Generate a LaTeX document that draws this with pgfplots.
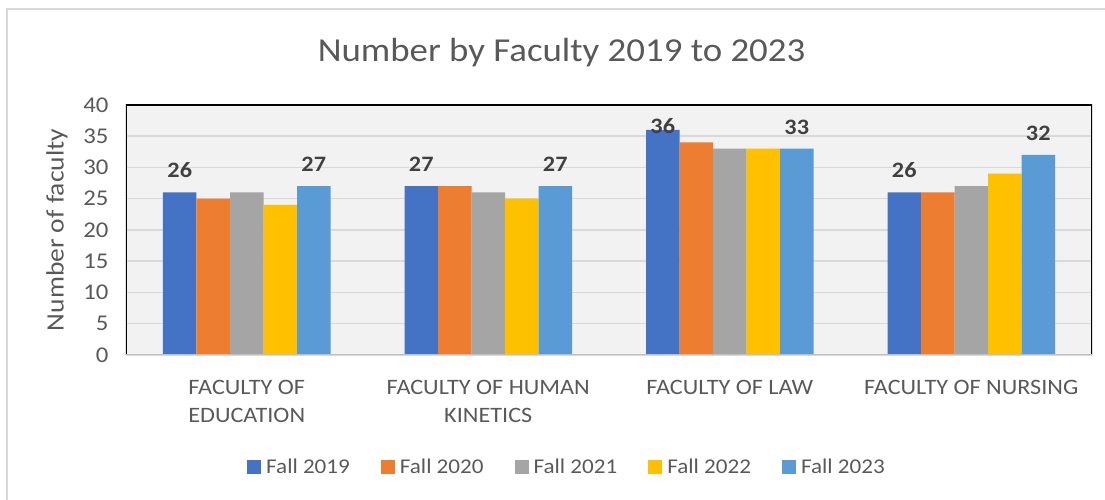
\documentclass[border=0pt]{standalone}
\usepackage{fontspec}
\setmainfont{Carlito}[FakeStretch=1.1]
\usepackage{pgfplots}
\pgfplotsset{compat=1.18}
\definecolor{cA}{HTML}{4472C4}
\definecolor{cB}{HTML}{ED7D31}
\definecolor{cC}{HTML}{A5A5A5}
\definecolor{cD}{HTML}{FFC000}
\definecolor{cE}{HTML}{5B9BD5}
\definecolor{txt}{HTML}{595959}
\definecolor{lbl}{HTML}{404040}
\definecolor{grid}{HTML}{D9D9D9}
\definecolor{frame}{HTML}{D9D9D9}
\definecolor{bg}{HTML}{F2F2F2}
\definecolor{xaxis}{HTML}{BFBFBF}
\begin{document}
\begin{tikzpicture}[x=1pt,y=1pt]
\path[use as bounding box] (-126,-145) rectangle (979,355);
\draw[color=frame, line width=2pt] (-119,-150) -- (-119,346) -- (985,346);
\begin{axis}[
  at={(0pt,0pt)}, anchor=south west,
  scale only axis, width=966pt, height=250pt,
  ybar=0pt, bar width=33.5pt,
  xmin=-0.5, xmax=3.5, ymin=0, ymax=40,
  xtick={0,1,2,3},
  xticklabels={{FACULTY OF\\EDUCATION},{FACULTY OF HUMAN\\KINETICS},{FACULTY OF LAW},{FACULTY OF NURSING}},
  ytick={0,5,...,40},
  major tick length=0pt,
  tick style={draw=none},
  axis line style={draw=none},
  axis background/.style={fill=bg},
  ymajorgrids, grid style={color=grid, line width=1.5pt},
  /pgf/number format/assume math mode=true,
  yticklabel style={font=\fontsize{22.5}{26}\selectfont, text=txt, xshift=-14pt},
  xticklabel style={font=\fontsize{22}{28}\selectfont, text=txt, align=center, yshift=-22pt},
  every axis y label/.style={at={(axis description cs:-0.0714,0.5)}, rotate=90, anchor=center},
  ylabel={Number of faculty},
  ylabel style={font=\fontsize{25}{28}\selectfont, text=txt},
  visualization depends on={y \as \rawy},
  every node near coord/.append style={font=\fontsize{22}{24}\selectfont\bfseries, text=lbl, yshift={ifthenelse(\rawy>35,-7.5,11)}},
  legend image code/.code={\fill[#1] (0pt,-7pt) rectangle (14pt,7pt);},
  legend style={at={(0.4565,-0.448)}, anchor=center, draw=none, fill=none,
    font=\fontsize{21}{24}\selectfont, text=txt,
    /tikz/every odd column/.append style={column sep=3pt},
    /tikz/every even column/.append style={column sep=29pt}},
  legend columns=5,
]
\addplot[fill=cA, draw=none, nodes near coords] coordinates {(0,26) (1,27) (2,36) (3,26)};
\addplot[fill=cB, draw=none] coordinates {(0,25) (1,27) (2,34) (3,26)};
\addplot[fill=cC, draw=none] coordinates {(0,26) (1,26) (2,33) (3,27)};
\addplot[fill=cD, draw=none] coordinates {(0,24) (1,25) (2,33) (3,29)};
\addplot[fill=cE, draw=none, nodes near coords] coordinates {(0,27) (1,27) (2,33) (3,32)};
\legend{Fall 2019, Fall 2020, Fall 2021, Fall 2022, Fall 2023}
\draw[color=black, line width=2pt] (rel axis cs:0,0) -- (rel axis cs:0,1) -- (rel axis cs:1,1) -- (rel axis cs:1,0);
\draw[color=xaxis, line width=2pt] (rel axis cs:0,0) -- (rel axis cs:1,0);
\end{axis}
\node[font=\fontsize{33.5}{38}\selectfont, text=txt, anchor=base] at (435.5,293) {Number by Faculty 2019 to 2023};
\end{tikzpicture}
\end{document}
